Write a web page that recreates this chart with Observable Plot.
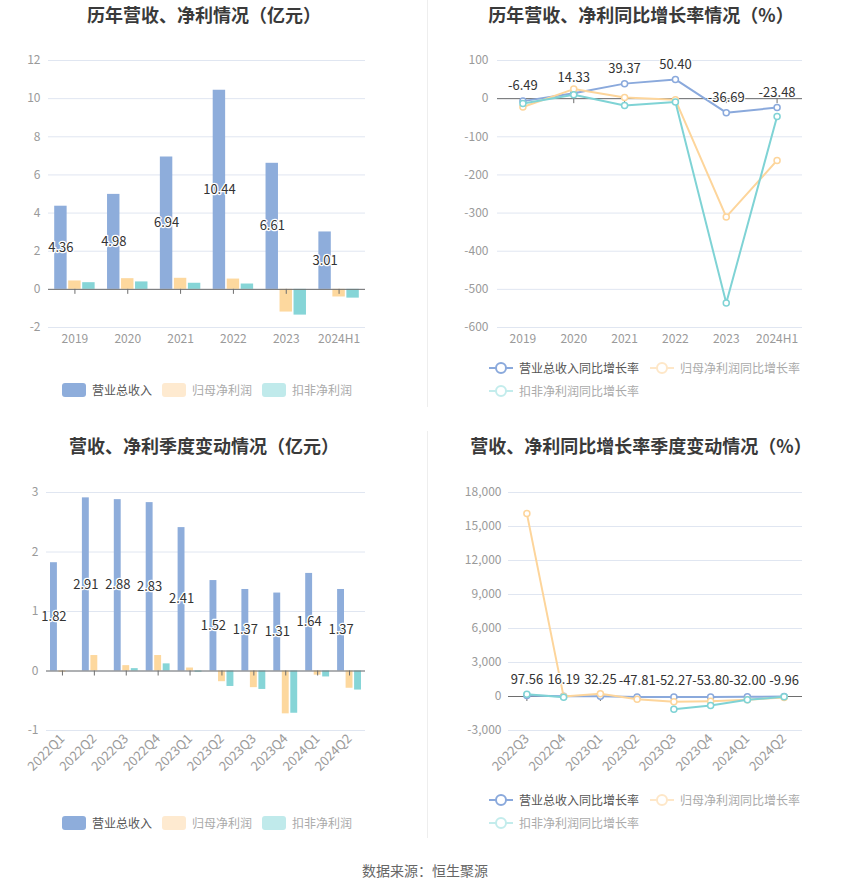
<!DOCTYPE html>
<html>
<head>
<meta charset="utf-8">
<script src="https://cdn.jsdelivr.net/npm/d3@7"></script>
<script src="https://cdn.jsdelivr.net/npm/@observablehq/plot@0.6"></script>
<style>
  body { margin: 0; background: #fff; font-family: "Noto Sans CJK SC", "Noto Sans", sans-serif; }
  #root { position: relative; width: 850px; height: 891px; overflow: hidden; }
  .title { position: absolute; width: 420px; text-align: center; font-size: 18px; font-weight: bold; color: #3a3a3a; line-height: 26px; white-space: nowrap; }
  .chart { position: absolute; }
  .item { position: absolute; display: flex; align-items: center; height: 16px; font-size: 12px; white-space: nowrap; }
  .item svg { display: block; }
  .item span { margin-left: 6px; line-height: 16px; }
  .divider { position: absolute; left: 427px; width: 1px; background: #eeeeee; }
  .caption { position: absolute; left: 0; width: 850px; top: 860px; text-align: center; font-size: 14px; color: #666; }
  .rot g[aria-label^="x-axis"] text { font-size: 13px; }
</style>
</head>
<body>
<div id="root"></div>
<script>
// ---------- data ----------
const years = ["2019", "2020", "2021", "2022", "2023", "2024H1"];
const revenue = [4.36, 4.98, 6.94, 10.44, 6.61, 3.01];
const netProfit = [0.44, 0.56, 0.58, 0.54, -1.19, -0.40];
const deductedProfit = [0.35, 0.39, 0.32, 0.28, -1.35, -0.46];
const yearAmountTicks = [-2, 0, 2, 4, 6, 8, 10, 12];

const revenueGrowth = [-6.49, 14.33, 39.37, 50.40, -36.69, -23.48];
const netProfitGrowth = [-22, 25, 3, -3, -310, -162];
const deductedGrowth = [-13, 10, -18, -9, -536, -47];
const yearGrowthTicks = [-600, -500, -400, -300, -200, -100, 0, 100];

const quarters = ["2022Q1", "2022Q2", "2022Q3", "2022Q4", "2023Q1", "2023Q2", "2023Q3", "2023Q4", "2024Q1", "2024Q2"];
const qRevenue = [1.82, 2.91, 2.88, 2.83, 2.41, 1.52, 1.37, 1.31, 1.64, 1.37];
const qNetProfit = [-0.02, 0.26, 0.09, 0.26, 0.05, -0.18, -0.28, -0.72, -0.07, -0.29];
const qDeducted = [0.00, 0.00, 0.04, 0.12, -0.02, -0.26, -0.31, -0.71, -0.10, -0.32];
const qAmountTicks = [-1, 0, 1, 2, 3];

const gQuarters = ["2022Q3", "2022Q4", "2023Q1", "2023Q2", "2023Q3", "2023Q4", "2024Q1", "2024Q2"];
const qRevenueGrowth = [97.56, 16.19, 32.25, -47.81, -52.27, -53.80, -32.00, -9.96];
const qNetProfitGrowth = [16140, -10, 235, -235, -470, -410, -280, -80];
const qDeductedGrowth = [205, -60, null, null, -1117, -794, -294, -30];
const qGrowthTicks = [-3000, 0, 3000, 6000, 9000, 12000, 15000, 18000];

const seriesAmount = ["营业总收入", "归母净利润", "扣非净利润"];
const seriesGrowth = ["营业总收入同比增长率", "归母净利润同比增长率", "扣非净利润同比增长率"];

// ---------- styles ----------
const FONT = '"Noto Sans CJK SC", "Noto Sans", sans-serif';
const C_REV = "#8eaddb", C_NP = "#fdd89e", C_DP = "#86d5d7";
const L_REV = "#8aa9dc", L_NP = "#fdd59b", L_DP = "#7fd3d5";
const GRID = "#e0e6f1", AXIS = "#6e6e6e", TICKTXT = "#9a9a9a";

const root = document.getElementById("root");
function place(el, left, top, cls) {
  el.classList.add("chart");
  if (cls) el.classList.add(cls);
  el.style.left = left + "px";
  el.style.top = top + "px";
  root.appendChild(el);
}
function addTitle(text, cx, top) {
  const d = document.createElement("div");
  d.className = "title";
  d.textContent = text;
  d.style.left = (cx - 210) + "px";
  d.style.top = top + "px";
  root.appendChild(d);
}
function barIcon(color) {
  return `<svg width="24" height="14"><rect x="0" y="0" width="24" height="14" rx="3" fill="${color}"/></svg>`;
}
function lineIcon(color) {
  return `<svg width="24" height="14"><line x1="0" y1="7" x2="24" y2="7" stroke="${color}" stroke-width="2"/><circle cx="12" cy="7" r="5" fill="#fff" stroke="${color}" stroke-width="2"/></svg>`;
}
function addLegend(items) {
  for (const it of items) {
    const d = document.createElement("div");
    d.className = "item";
    d.style.left = it.x + "px";
    d.style.top = (it.y - 8) + "px";
    d.innerHTML = it.icon + `<span style="color:${it.textColor}">${it.label}</span>`;
    root.appendChild(d);
  }
}
const plotStyle = {fontFamily: FONT, fontSize: "12px", color: TICKTXT, background: "transparent", overflow: "visible"};

// ---------- chart 1: yearly amounts (bars) ----------
const rows1 = years.map((c, i) => ({c, rev: revenue[i], np: netProfit[i], dp: deductedProfit[i]}));
const inset1 = 20.2;
const chart1 = Plot.plot({
  width: 425, height: 330,
  marginTop: 30, marginBottom: 33, marginLeft: 48, marginRight: 60,
  style: plotStyle,
  x: {type: "band", domain: years, padding: 0, round: false, tickSize: 0, tickPadding: 7, label: null},
  y: {domain: [-2, 12], ticks: yearAmountTicks, tickSize: 0, tickPadding: 8, label: null, tickFormat: d => String(d)},
  marks: [
    Plot.ruleY(yearAmountTicks, {stroke: GRID}),
    Plot.barY(rows1, {x: "c", y: "rev", fill: C_REV, insetLeft: inset1, insetRight: inset1, dx: -14}),
    Plot.barY(rows1, {x: "c", y: "np", fill: C_NP, insetLeft: inset1, insetRight: inset1}),
    Plot.barY(rows1, {x: "c", y: "dp", fill: C_DP, insetLeft: inset1, insetRight: inset1, dx: 14}),
    Plot.ruleY([0], {stroke: AXIS}),
    Plot.ruleX(years, {x: d => d, y1: 0, y2: 0, insetBottom: -5, stroke: AXIS}),
    Plot.text(rows1, {x: "c", y: d => d.rev / 2, text: d => d.rev.toFixed(2), dx: -14, fill: "#333", stroke: "white", strokeWidth: 2.5, fontSize: 13})
  ]
});
place(chart1, 0, 30);

// ---------- chart 2: yearly growth (lines) ----------
const rows2 = years.map((c, i) => ({c, rev: revenueGrowth[i], np: netProfitGrowth[i], dp: deductedGrowth[i]}));
function lineMarks(rows, key, color) {
  const data = rows.filter(d => d[key] != null);
  return [
    Plot.line(rows, {x: "c", y: d => d[key] == null ? NaN : d[key], stroke: color, strokeWidth: 2}),
    Plot.dot(data, {x: "c", y: key, r: 3, fill: "white", stroke: color, strokeWidth: 1.5})
  ];
}
const chart2 = Plot.plot({
  width: 425, height: 330,
  marginTop: 30, marginBottom: 33, marginLeft: 72, marginRight: 48,
  style: plotStyle,
  x: {type: "point", domain: years, padding: 0.5, round: false, tickSize: 0, tickPadding: 7, label: null},
  y: {domain: [-600, 100], ticks: yearGrowthTicks, tickSize: 0, tickPadding: 9, label: null, tickFormat: d => String(d)},
  marks: [
    Plot.ruleY(yearGrowthTicks, {stroke: GRID}),
    Plot.ruleY([0], {stroke: AXIS}),
    Plot.ruleX(years, {x: d => d, y1: 0, y2: 0, insetBottom: -5, stroke: AXIS}),
    ...lineMarks(rows2, "rev", L_REV),
    ...lineMarks(rows2, "np", L_NP),
    ...lineMarks(rows2, "dp", L_DP),
    Plot.text(rows2, {x: "c", y: "rev", text: d => d.rev.toFixed(2), dy: -15, fill: "#333", stroke: "white", strokeWidth: 2, fontSize: 13})
  ]
});
place(chart2, 425, 30);

// ---------- chart 3: quarterly amounts (bars) ----------
const rows3 = quarters.map((c, i) => ({c, rev: qRevenue[i], np: qNetProfit[i], dp: qDeducted[i]}));
const inset3 = 12.5;
const chart3 = Plot.plot({
  width: 425, height: 330,
  marginTop: 32, marginBottom: 60, marginLeft: 46, marginRight: 60,
  style: plotStyle,
  x: {type: "band", domain: quarters, padding: 0, round: false, tickSize: 0, tickPadding: 6, tickRotate: -45, label: null},
  y: {domain: [-1, 3], ticks: qAmountTicks, tickSize: 0, tickPadding: 8, label: null, tickFormat: d => String(d)},
  marks: [
    Plot.ruleY(qAmountTicks, {stroke: GRID}),
    Plot.barY(rows3, {x: "c", y: "rev", fill: C_REV, insetLeft: inset3, insetRight: inset3, dx: -8.5}),
    Plot.barY(rows3, {x: "c", y: "np", fill: C_NP, insetLeft: inset3, insetRight: inset3}),
    Plot.barY(rows3, {x: "c", y: "dp", fill: C_DP, insetLeft: inset3, insetRight: inset3, dx: 8.5}),
    Plot.ruleY([0], {stroke: AXIS}),
    Plot.ruleX(quarters, {x: d => d, y1: 0, y2: 0, insetBottom: -5, stroke: AXIS}),
    Plot.text(rows3, {x: "c", y: d => d.rev / 2, text: d => d.rev.toFixed(2), dx: -8.5, fill: "#333", stroke: "white", strokeWidth: 2.5, fontSize: 13})
  ]
});
place(chart3, 0, 460, "rot");

// ---------- chart 4: quarterly growth (lines) ----------
const rows4 = gQuarters.map((c, i) => ({c, rev: qRevenueGrowth[i], np: qNetProfitGrowth[i], dp: qDeductedGrowth[i]}));
const chart4 = Plot.plot({
  width: 425, height: 330,
  marginTop: 32, marginBottom: 60, marginLeft: 83, marginRight: 48,
  style: plotStyle,
  x: {type: "point", domain: gQuarters, padding: 0.5, round: false, tickSize: 0, tickPadding: 6, tickRotate: -45, label: null},
  y: {domain: [-3000, 18000], ticks: qGrowthTicks, tickSize: 0, tickPadding: 7, label: null, tickFormat: d => d.toLocaleString("en-US")},
  marks: [
    Plot.ruleY(qGrowthTicks, {stroke: GRID}),
    Plot.ruleY([0], {stroke: AXIS}),
    Plot.ruleX(gQuarters, {x: d => d, y1: 0, y2: 0, insetBottom: -5, stroke: AXIS}),
    ...lineMarks(rows4, "rev", L_REV),
    ...lineMarks(rows4, "np", L_NP),
    ...lineMarks(rows4, "dp", L_DP),
    Plot.text(rows4, {x: "c", y: "rev", text: d => d.rev.toFixed(2), dy: -16, fill: "#333", stroke: "white", strokeWidth: 2, fontSize: 13})
  ]
});
place(chart4, 425, 460, "rot");

// ---------- titles ----------
addTitle("历年营收、净利情况（亿元）", 204, 1);
addTitle("历年营收、净利同比增长率情况（%）", 641, 1);
addTitle("营收、净利季度变动情况（亿元）", 204, 432);
addTitle("营收、净利同比增长率季度变动情况（%）", 641, 432);

// ---------- legends ----------
const barColors = [C_REV, "#feead0", "#c0eaeb"];
const lineColors = [L_REV, "#fee7c8", "#c3ecec"];
const txtColors = ["#555", "#aaa", "#aaa"];
for (const y of [390, 823]) {
  addLegend(seriesAmount.map((s, i) => ({x: 62 + 100 * i, y, icon: barIcon(barColors[i]), label: s, textColor: txtColors[i]})));
}
for (const y of [368, 800]) {
  addLegend([
    {x: 489, y, icon: lineIcon(lineColors[0]), label: seriesGrowth[0], textColor: txtColors[0]},
    {x: 650, y, icon: lineIcon(lineColors[1]), label: seriesGrowth[1], textColor: txtColors[1]},
    {x: 489, y: y + 23, icon: lineIcon(lineColors[2]), label: seriesGrowth[2], textColor: txtColors[2]}
  ]);
}

// ---------- dividers & caption ----------
for (const [top, h] of [[0, 407], [431, 407]]) {
  const d = document.createElement("div");
  d.className = "divider";
  d.style.top = top + "px";
  d.style.height = h + "px";
  root.appendChild(d);
}
const cap = document.createElement("div");
cap.className = "caption";
cap.textContent = "数据来源：恒生聚源";
root.appendChild(cap);
</script>
</body>
</html>
